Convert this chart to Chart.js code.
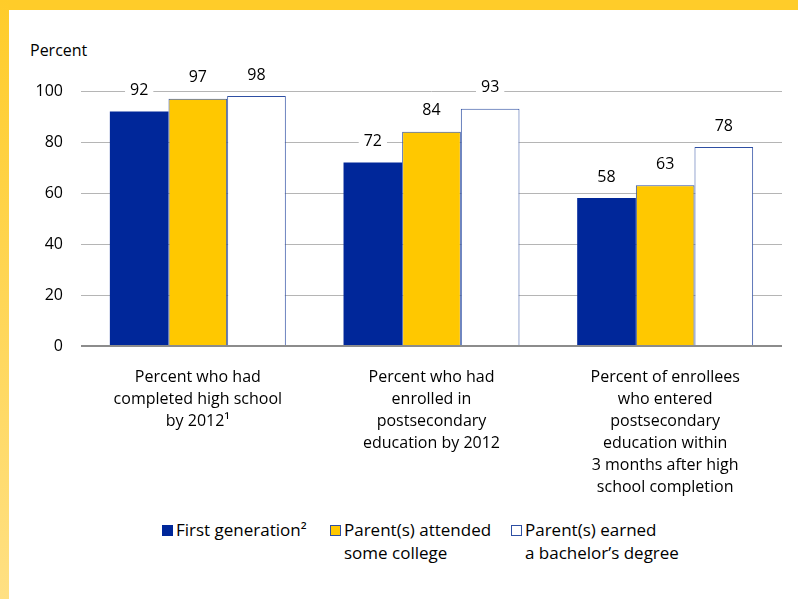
<!DOCTYPE html>
<html>
<head>
<meta charset="utf-8">
<script src="https://cdn.jsdelivr.net/npm/chart.js@4.4.1/dist/chart.umd.min.js"></script>
<style>
  body { margin: 0; width: 798px; height: 599px; position: relative; overflow: hidden; background: #fff;
         font-family: "Open Sans", sans-serif; color: #000; }
  #topbar { position: absolute; left: 0; top: 0; width: 798px; height: 10px; background: #FFCC29; }
  #leftbar { position: absolute; left: 0; top: 0; width: 9px; height: 599px; background: linear-gradient(#FFCC29, #FFE083); }
  #wrap { position: absolute; left: 9px; top: 10px; width: 789px; height: 490px; }
  #percent { position: absolute; left: 30px; top: 39px; font-size: 16px; }
  .leg { position: absolute; top: 518px; font-size: 17px; line-height: 23px; padding-left: 14px; }
  .leg span.box { position: absolute; left: 0; top: 7px; width: 9px; height: 9px; border: 1px solid #2E4FA3; }
</style>
</head>
<body>
<div id="topbar"></div>
<div id="leftbar"></div>
<div id="percent">Percent</div>
<div id="wrap"><canvas id="canvas" width="789" height="490"></canvas></div>
<div id="legend"></div>
<script>
let categorias = [
  ['Percent who had', 'completed high school', 'by 2012\u00B9'],
  ['Percent who had', 'enrolled in', 'postsecondary', 'education by 2012'],
  ['Percent of enrollees', 'who entered', 'postsecondary', 'education within', '3 months after high', 'school completion']
];
let primeira_geracao = [92, 72, 58];
let alguma_faculdade = [97, 84, 63];
let bacharelado = [98, 93, 78];
let rotulos_legenda = [
  ['First generation\u00B2'],
  ['Parent(s) attended', 'some college'],
  ['Parent(s) earned', 'a bachelor\u2019s degree']
];
let pos_legenda = [162, 330, 511];

let azul = '#00279A';
let amarelo = '#FFC800';

// rotulos de valor com fundo branco (cortam a linha de grade)
let rotulosValor = {
  id: 'rotulosValor',
  afterDatasetsDraw(chart) {
    let ctx = chart.ctx;
    ctx.save();
    ctx.font = '16px "Open Sans", sans-serif';
    ctx.textAlign = 'center';
    ctx.textBaseline = 'middle';
    chart.data.datasets.forEach(function(ds, i) {
      chart.getDatasetMeta(i).data.forEach(function(bar, j) {
        let txt = String(ds.data[j]);
        let w = ctx.measureText(txt).width + 10;
        let y = bar.y - 21;
        ctx.fillStyle = '#fff';
        ctx.fillRect(bar.x - w / 2, y - 9, w, 18);
        ctx.fillStyle = '#000';
        ctx.fillText(txt, bar.x, y);
      });
    });
    ctx.restore();
  }
};

let configuracao = {
  type: 'bar',
  data: {
    labels: categorias,
    datasets: [{
      label: rotulos_legenda[0].join(' '),
      data: primeira_geracao,
      backgroundColor: azul,
      borderColor: azul,
      borderWidth: 0
    }, {
      label: rotulos_legenda[1].join(' '),
      data: alguma_faculdade,
      backgroundColor: amarelo,
      borderColor: '#2E4FA3',
      borderWidth: 1
    }, {
      label: rotulos_legenda[2].join(' '),
      data: bacharelado,
      backgroundColor: '#fff',
      borderColor: '#2E4FA3',
      borderWidth: 1
    }]
  },
  options: {
    responsive: false,
    animation: false,
    categoryPercentage: 0.753,
    barPercentage: 1,
    layout: { padding: { top: 81, right: 16, left: 0, bottom: 0 } },
    plugins: {
      legend: { display: false },
      tooltip: { enabled: false }
    },
    scales: {
      x: {
        grid: { display: false },
        border: { display: false },
        ticks: {
          color: '#000',
          font: { family: '"Open Sans", sans-serif', size: 16, lineHeight: 1.375 },
          padding: 12,
          maxRotation: 0,
          autoSkip: false
        },
        afterFit: function(s) { s.height = 154; }
      },
      y: {
        min: 0,
        max: 100,
        border: { display: false },
        grid: {
          drawTicks: false,
          color: function(c) { return c.tick.value === 0 ? '#8C8C8C' : '#B5B5B5'; },
          lineWidth: function(c) { return c.tick.value === 0 ? 2 : 1; }
        },
        ticks: {
          stepSize: 20,
          color: '#000',
          font: { family: '"Open Sans", sans-serif', size: 16 },
          padding: 18
        },
        afterFit: function(s) { s.width = 72; }
      }
    }
  },
  plugins: [rotulosValor]
};

let chart = new Chart(document.getElementById('canvas'), configuracao);

let legenda = document.getElementById('legend');
for (let i = 0; i < configuracao.data.datasets.length; i++) {
  let ds = configuracao.data.datasets[i];
  let item = document.createElement('div');
  item.className = 'leg';
  item.style.left = pos_legenda[i] + 'px';
  let box = document.createElement('span');
  box.className = 'box';
  box.style.background = ds.backgroundColor;
  box.style.borderColor = i === 0 ? azul : '#2E4FA3';
  item.appendChild(box);
  item.innerHTML += rotulos_legenda[i].join('<br>');
  legenda.appendChild(item);
}
</script>
</body>
</html>
